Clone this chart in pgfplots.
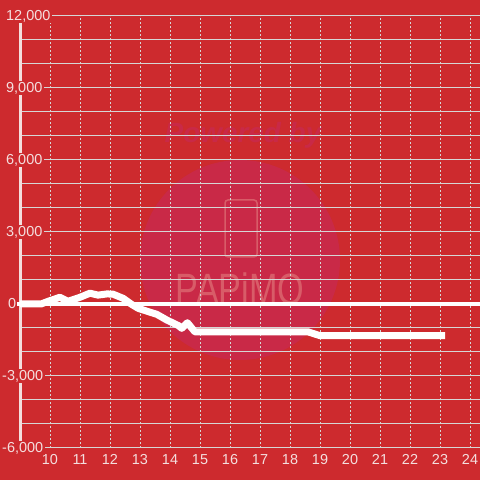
\documentclass[border=0pt]{standalone}
\usepackage{fontspec}
\setmainfont{Liberation Sans}
\usepackage{pgfplots}
\pgfplotsset{compat=1.18}
\definecolor{bg}{RGB}{205,42,46}
\definecolor{grd}{RGB}{214,214,214}
\definecolor{lbl}{RGB}{244,222,222}
\definecolor{wm}{RGB}{201,41,71}
\definecolor{wmtext}{RGB}{216,92,104}
\newcommand{\tickfont}{\fontsize{14.5}{14.5}\selectfont}
\setlength{\fboxsep}{1.5bp}
% y tick label: left-aligned text on a red patch that hides the axis line
\newcommand{\yl}[1]{\rlap{\colorbox{bg}{\textcolor{lbl}{#1}}}}
\begin{document}
\begin{tikzpicture}
\useasboundingbox (0,0) rectangle (480bp,480bp);
\fill[bg] (0,0) rectangle (480bp,480bp);
% watermark
\fill[wm] (240bp,220bp) circle (100bp);
\node[text=wm, font=\fontsize{28}{28}\selectfont\bfseries\itshape] at (243bp,345bp) {Powered by};
\draw[wmtext, line width=1.5bp, rounded corners=3bp] (225bp,223bp) rectangle (257bp,280bp);
\node[text=wmtext, font=\fontsize{44}{44}\selectfont, xscale=0.78] at (240bp,191bp) {PAPiMO};
\begin{axis}[
  at={(21bp,32bp)}, anchor=south west,
  scale only axis, width=459bp, height=432bp,
  xmin=9.0333, xmax=24.3333, ymin=-6000, ymax=12000,
  clip=false,
  scaled y ticks=false,
  /pgf/number format/assume math mode=true,
  axis x line*=bottom, axis y line*=left,
  axis line style={-},
  x axis line style={draw=none},
  y axis line style={lbl, line width=3bp},
  xtick={10,...,24},
  ytick={-6000,-3000,0,3000,6000,9000},
  yticklabels={{\yl{\kern-4bp-6,000}},{\yl{\kern-4bp-3,000}},{\yl{\kern2bp 0}},{\yl{3,000}},{\yl{6,000}},{\yl{9,000}}},
  extra y ticks={12000},
  extra y tick labels={{\yl{12,000}}},
  extra y tick style={grid=major},
  minor ytick={-5000,-4000,-2000,-1000,1000,2000,4000,5000,7000,8000,10000,11000},
  grid=both,
  x grid style={grd, dash pattern=on 2bp off 2bp, line width=1bp},
  y grid style={grd, line width=1bp},
  tick style={draw=none},
  major tick length=0pt, minor tick length=0pt,
  xticklabel style={text=lbl, font=\tickfont, anchor=north, yshift=-3bp},
  yticklabel style={font=\tickfont, anchor=west, inner sep=0pt, xshift=-17bp},
]
\draw[white, line width=3.5bp] (axis cs:8.9,0) -- (axis cs:24.3333,0);
\addplot[white, line width=7bp, line join=round] coordinates {
  (9.0,0) (9.7,0) (10.0,140) (10.33,280) (10.6,110) (11.0,280) (11.33,450)
  (11.6,370) (11.9,420) (12.1,410) (12.44,235) (12.72,-15) (12.94,-180)
  (13.28,-320) (13.56,-430) (13.89,-665) (14.28,-900) (14.39,-1015)
  (14.58,-780) (14.83,-1160) (18.6,-1160) (19.0,-1320) (23.17,-1320)
};
\end{axis}
\end{tikzpicture}
\end{document}
